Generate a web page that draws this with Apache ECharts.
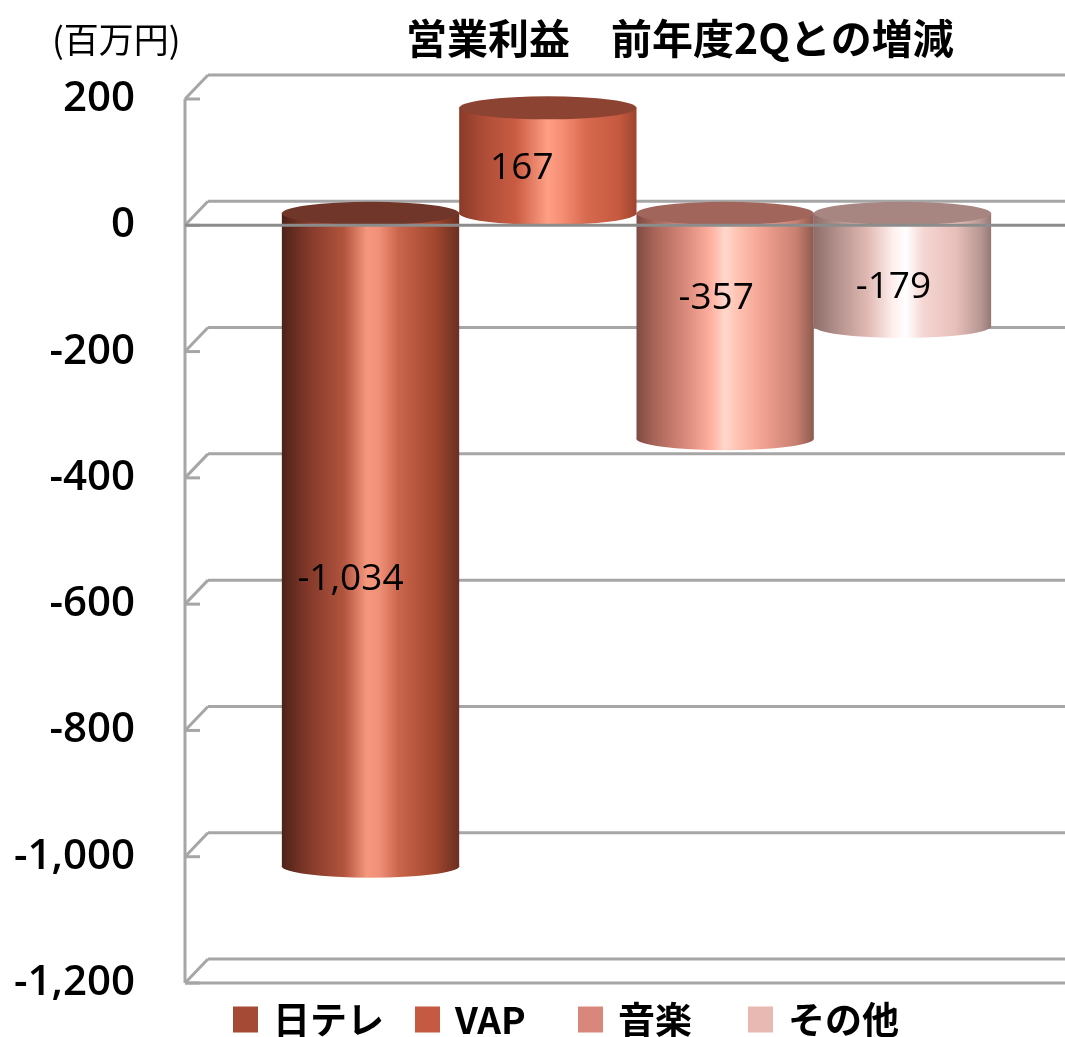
<!DOCTYPE html>
<html>
<head>
<meta charset="utf-8">
<script src="https://cdn.jsdelivr.net/npm/echarts@6/dist/echarts.min.js"></script>
<style>
html,body{margin:0;padding:0;background:#fff;}
#chart{width:1065px;height:1037px;}
</style>
</head>
<body>
<div id="chart"></div>
<script>
// ---- data ----
const categories = ['日テレ', 'VAP', '音楽', 'その他'];
const values = [-1034, 167, -357, -179];
const yTicks = [200, 0, -200, -400, -600, -800, -1000, -1200];
const titleText = '営業利益　前年度2Qとの増減';
const unitText = '(百万円)';

// ---- styles ----
const legendColors = ['#a44a35', '#c45a42', '#d9877a', '#e8b8b2'];
const legendLefts = [228, 410, 573, 743];
const topColors = ['#70362a', '#8d4332', '#a2655b', '#a78580'];
const bodyStops = [
  [[0,'#4e2219'],[0.15,'#83392a'],[0.35,'#b2543e'],[0.48,'#f5977d'],[0.55,'#f09078'],[0.66,'#c9654b'],[0.86,'#a3472f'],[1,'#6b2f21']],
  [[0,'#8a3a2a'],[0.15,'#b04e38'],[0.32,'#c95c42'],[0.5,'#ff9f85'],[0.58,'#f58e74'],[0.72,'#d6694e'],[0.9,'#c55a40'],[1,'#9e452f']],
  [[0,'#7e4a42'],[0.1,'#a86458'],[0.3,'#e08f80'],[0.42,'#ffb0a0'],[0.5,'#ffd8cc'],[0.58,'#ffc0b0'],[0.72,'#f0a090'],[0.9,'#c88070'],[1,'#8e5a50']],
  [[0,'#8e6e6a'],[0.15,'#b89590'],[0.3,'#e0b8b2'],[0.45,'#fff0ee'],[0.52,'#ffffff'],[0.62,'#f5d6d2'],[0.8,'#e8bfba'],[0.94,'#b89894'],[1,'#957874']]
];
const labelOffsets = [[-20, 40], [-26, 8], [-9, -28], [-9, 18]];
const DX = 23, DY = 24, BAR_FRAC = 0.2015, RY = 11.5;
const LINE = '#a6a6a6', LINE_FRONT = '#8c8c8c';

function grad(stops) {
  return new echarts.graphic.LinearGradient(0, 0, 1, 0,
    stops.map(s => ({offset: s[0], color: s[1]})));
}
const fmt = v => Number(v).toLocaleString('en-US');

const chart = echarts.init(document.getElementById('chart'), null, {renderer: 'canvas'});

function cylinderRender(i) {
  return function (params, api) {
    const v = api.value(1);
    const band = api.size([1, 0])[0];
    const p0 = api.coord([0, 0]);
    const pv = api.coord([0, v]);
    const w = band * BAR_FRAC;
    const rx = w / 2;
    const cx = p0[0] + DX / 2 + (i - 1.5) * w;
    const yTop = Math.min(p0[1], pv[1]) - DY / 2;
    const yBot = Math.max(p0[1], pv[1]) - DY / 2;
    const off = labelOffsets[i];
    return {
      type: 'group',
      children: [
        {type: 'circle', shape: {cx: 0, cy: 0, r: rx}, x: cx, y: yBot, scaleY: RY / rx,
         style: {fill: grad(bodyStops[i])}},
        {type: 'rect', shape: {x: cx - rx, y: yTop, width: w, height: yBot - yTop},
         style: {fill: grad(bodyStops[i])}},
        {type: 'circle', shape: {cx: 0, cy: 0, r: rx}, x: cx, y: yTop, scaleY: RY / rx,
         style: {fill: topColors[i]}},
        {type: 'text', x: cx + off[0], y: (yTop + yBot) / 2 + off[1],
         style: {text: fmt(v), fill: '#000', fontSize: 37, fontFamily: 'Open Sans',
                 align: 'center', verticalAlign: 'middle'}}
      ]
    };
  };
}

function frameBackRender(params, api) {
  const cs = params.coordSys;
  const v = api.value(1);
  const y = api.coord([0, v])[1];
  const x0 = cs.x, x1 = cs.x + cs.width;
  const ls = {stroke: LINE, lineWidth: 3};
  const children = [
    {type: 'line', shape: {x1: x0, y1: y, x2: x0 + DX, y2: y - DY}, style: ls},
    {type: 'line', shape: {x1: x0 + DX, y1: y - DY, x2: x1, y2: y - DY}, style: ls},
    {type: 'line', shape: {x1: x0, y1: y, x2: x0 + 15, y2: y}, style: ls}
  ];
  if (params.dataIndex === 0) {
    children.push({type: 'line', shape: {x1: x0, y1: cs.y, x2: x0, y2: cs.y + cs.height}, style: ls});
  }
  if (v === yTicks[yTicks.length - 1]) {
    children.push({type: 'line', shape: {x1: x0, y1: y, x2: x1, y2: y}, style: ls});
  }
  return {type: 'group', children};
}

function frameFrontRender(params, api) {
  const cs = params.coordSys;
  const y = api.coord([0, api.value(1)])[1];
  return {type: 'line', shape: {x1: cs.x, y1: y, x2: cs.x + cs.width, y2: y},
          style: {stroke: LINE_FRONT, lineWidth: 3}};
}

const series = [
  {type: 'custom', name: '_frameBack', z: 1, silent: true,
   data: yTicks.map(v => [0, v]), encode: {x: 0, y: 1}, renderItem: frameBackRender}
];
categories.forEach((c, i) => {
  series.push({type: 'custom', name: c, z: 2 + i,
    itemStyle: {color: legendColors[i]},
    data: [[0, values[i]]], encode: {x: 0, y: 1}, renderItem: cylinderRender(i)});
});
series.push({type: 'custom', name: '_frameFront', z: 10, silent: true,
  data: [[0, 0]], encode: {x: 0, y: 1}, renderItem: frameFrontRender});

const legends = categories.map((c, i) => ({
  data: [{name: c, icon: 'rect', itemStyle: {color: legendColors[i]}}],
  left: legendLefts[i], top: 996, itemWidth: 25, itemHeight: 26,
  selectedMode: false,
  textStyle: {fontSize: 37, fontWeight: 'bold', color: '#000', fontFamily: 'Noto Sans CJK JP',
              padding: [0, 0, 0, 10]}
}));

chart.setOption({
  animation: false,
  backgroundColor: '#fff',
  title: [
    {text: titleText, left: 401, top: 13,
     textStyle: {fontSize: 41, fontWeight: 'bold', color: '#000', fontFamily: 'Noto Sans CJK JP'}},
    {text: unitText, left: 47, top: 17,
     textStyle: {fontSize: 35, fontWeight: 'normal', color: '#000', fontFamily: 'Noto Sans CJK JP'}}
  ],
  legend: legends,
  grid: {left: 185, right: 0, top: 99, bottom: 54, containLabel: false},
  xAxis: {type: 'category', data: ['2Q'], show: false},
  yAxis: {
    type: 'value', min: -1200, max: 200, interval: 200,
    axisLine: {show: false}, axisTick: {show: false}, splitLine: {show: false},
    axisLabel: {formatter: fmt, fontSize: 42, fontWeight: 600, fontFamily: 'Open Sans',
                color: '#000', margin: 50}
  },
  series
});
</script>
</body>
</html>
